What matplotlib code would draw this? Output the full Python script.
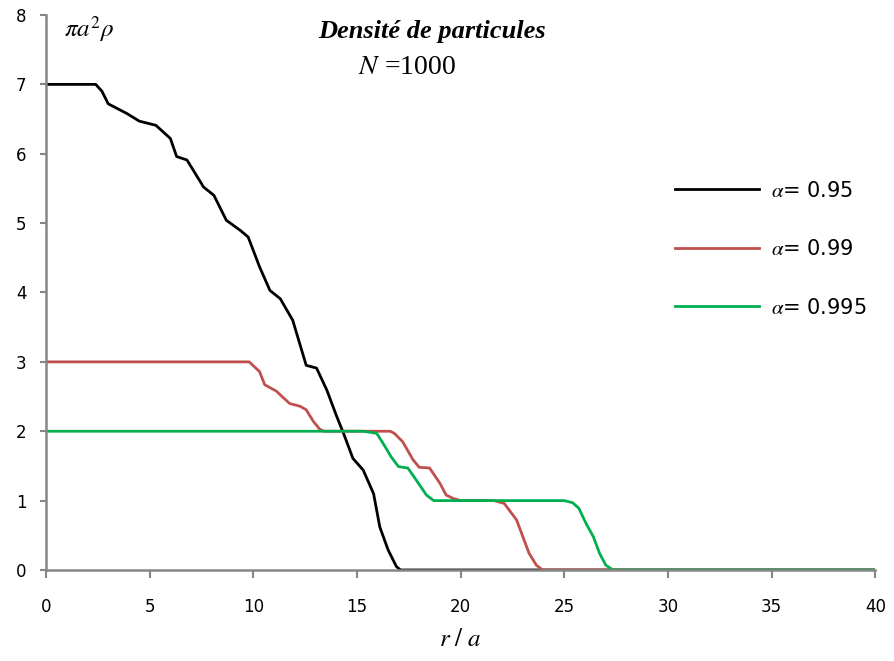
import numpy as np
import matplotlib.pyplot as plt

# Density profiles (r/a, pi a^2 rho)
r_095 = [0, 2.4, 2.7, 3.0, 3.9, 4.5, 5.3, 6.0, 6.3, 6.8, 7.6, 8.1, 8.7, 9.35, 9.75,
         10.3, 10.8, 11.3, 11.9, 12.55, 13.05, 13.55, 14.0, 14.35, 14.8, 15.3, 15.8,
         16.1, 16.5, 16.9, 17.1, 40]
d_095 = [7, 7, 6.9, 6.72, 6.58, 6.47, 6.41, 6.22, 5.96, 5.91, 5.52, 5.40, 5.04, 4.90, 4.80,
         4.37, 4.03, 3.91, 3.60, 2.95, 2.91, 2.59, 2.23, 1.97, 1.61, 1.44, 1.10,
         0.62, 0.29, 0.05, 0, 0]

r_099 = [0, 9.8, 10.3, 10.55, 11.1, 11.75, 12.25, 12.55, 12.9, 13.2, 13.4, 16.6, 16.8,
         17.2, 17.7, 18.0, 18.5, 19.0, 19.3, 19.65, 20.0, 21.6, 22.1, 22.7, 23.0, 23.3,
         23.65, 23.95, 40]
d_099 = [3, 3, 2.86, 2.67, 2.58, 2.40, 2.36, 2.31, 2.14, 2.03, 2.0, 2.0, 1.97,
         1.85, 1.59, 1.48, 1.47, 1.25, 1.08, 1.03, 1.0, 1.0, 0.96, 0.72, 0.48, 0.24,
         0.07, 0, 0]

r_0995 = [0, 15.3, 15.95, 16.25, 16.65, 17.0, 17.45, 17.85, 18.35, 18.7, 25.0, 25.4,
          25.7, 26.05, 26.4, 26.7, 27.0, 27.35, 40]
d_0995 = [2, 2, 1.97, 1.83, 1.63, 1.49, 1.47, 1.30, 1.08, 1.0, 1.0, 0.97,
          0.89, 0.67, 0.48, 0.24, 0.07, 0, 0]

series = [
    (r_095, d_095, 'black', r'$\alpha$= 0.95'),
    (r_099, d_099, '#C0504D', r'$\alpha$= 0.99'),
    (r_0995, d_0995, '#00B050', r'$\alpha$= 0.995'),
]

plt.rcParams['mathtext.fontset'] = 'stix'

fig = plt.figure(figsize=(8.95, 6.61), dpi=100)
ax = fig.add_axes([0.0514, 0.1377, 0.9266, 0.8396])

for r, d, color, label in series:
    ax.plot(r, d, color=color, lw=2.0, label=label)

ax.set_xlim(0, 40)
ax.set_ylim(0, 8)
ax.set_xticks(np.arange(0, 41, 5))
ax.set_yticks(np.arange(0, 9, 1))

for side in ['top', 'right']:
    ax.spines[side].set_visible(False)
for side in ['left', 'bottom']:
    ax.spines[side].set_color('#868686')
    ax.spines[side].set_linewidth(1.8)

ax.tick_params(axis='x', direction='out', length=6, width=1.5, color='#868686',
               labelsize=12, pad=14)
ax.tick_params(axis='y', direction='out', length=4, width=1.5, color='#868686',
               labelsize=12, pad=10)

ax.set_xlabel(r'$r\ /\ a$', fontsize=18, labelpad=8)

ax.text(0.022, 0.975, r'$\pi a^2 \rho$', transform=ax.transAxes, fontsize=18,
        va='center', ha='left')
ax.text(0.466, 0.97, 'Densité de particules', transform=ax.transAxes,
        family='Liberation Serif', style='italic', weight='bold', fontsize=19,
        ha='center', va='center')
ax.text(0.435, 0.905, r'$N$ =1000', transform=ax.transAxes,
        family='Liberation Serif', fontsize=20, ha='center', va='center')

ax.legend(loc='center left', bbox_to_anchor=(0.759, 0.578), frameon=False,
          fontsize=15, handlelength=4.0, handletextpad=0.6, labelspacing=1.85,
          borderpad=0, borderaxespad=0)

fig.savefig('out.png', dpi=100)
